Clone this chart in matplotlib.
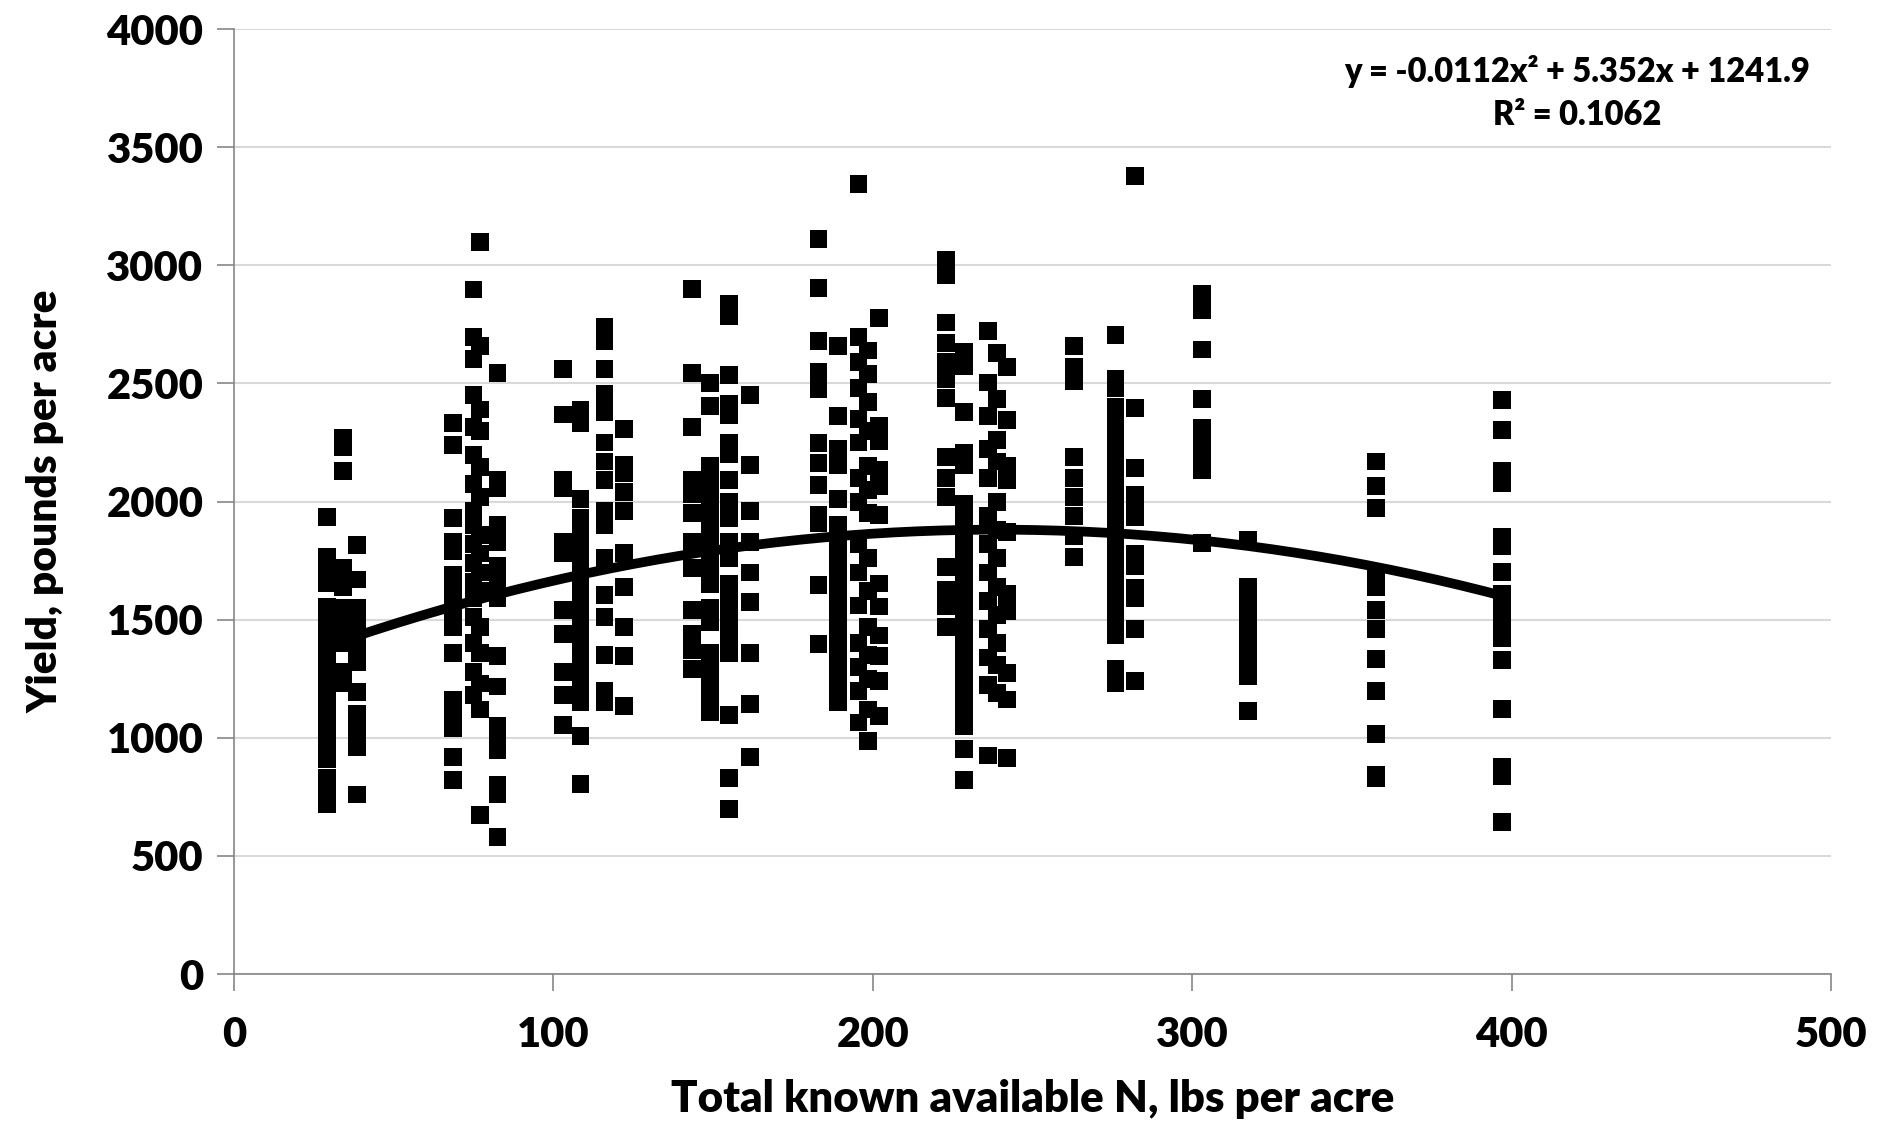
import numpy as np
import matplotlib
matplotlib.use('Agg')
import matplotlib.pyplot as plt

plt.rcParams['font.family'] = ['Lato', 'DejaVu Sans']
plt.rcParams['font.weight'] = 'heavy'

# total known available N (lbs/acre) for each column of points
n_levels = [29, 34, 38.5, 68.5, 75, 77, 82.5, 103, 108.5, 116, 122,
            143.5, 149, 155, 161.5, 183, 189, 195.5, 198.5, 202, 223, 228.5,
            236, 239, 242, 263, 276, 282, 303, 317.5, 357.5, 397]

# yields, one list per N level
yield_by_level = [
    [1934, 1767, 1690, 1654, 1555, 1520, 1490, 1460, 1430, 1400, 1370, 1340, 1310,
     1280, 1230, 1176, 1130, 1100, 1060, 1020, 990, 950, 910, 830, 790, 750, 720],
    [2270, 2230, 2128, 1718, 1690, 1640, 1550, 1500, 1450, 1400, 1280, 1230],
    [1816, 1670, 1550, 1500, 1450, 1400, 1350, 1320, 1193, 1100, 1050, 990, 960, 760],
    [2333, 2241, 1929, 1830, 1790, 1690, 1650, 1600, 1560, 1500, 1470, 1360, 1160,
     1100, 1040, 920, 820],
    [2898, 2697, 2605, 2450, 2317, 2196, 2075, 1960, 1900, 1820, 1740, 1660, 1590,
     1510, 1400, 1280, 1180],
    [3100, 2660, 2390, 2300, 2147, 2020, 1860, 1780, 1700, 1620, 1470, 1360, 1230,
     1120, 675],
    [2544, 2090, 2058, 1900, 1830, 1727, 1650, 1590, 1346, 1217, 1050, 1000, 950,
     800, 760, 580],
    [2560, 2369, 2090, 2058, 1830, 1780, 1540, 1440, 1280, 1180, 1055],
    [2390, 2333, 2010, 1930, 1900, 1860, 1820, 1780, 1740, 1700, 1650, 1600, 1550,
     1500, 1450, 1400, 1350, 1300, 1250, 1200, 1150, 1007, 804],
    [2740, 2680, 2560, 2455, 2380, 2250, 2170, 2090, 1960, 1900, 1760, 1605, 1510,
     1350, 1200, 1150],
    [2309, 2155, 2120, 2040, 1960, 1783, 1640, 1470, 1346, 1136],
    [2900, 2544, 2317, 2090, 2030, 1950, 1830, 1720, 1540, 1440, 1370, 1290],
    [2503, 2405, 2150, 2100, 2050, 2000, 1950, 1900, 1850, 1800, 1750, 1700, 1650,
     1550, 1490, 1360, 1300, 1250, 1180, 1110],
    [2835, 2786, 2535, 2414, 2365, 2250, 2200, 2090, 2000, 1930, 1830, 1760, 1650,
     1590, 1520, 1470, 1400, 1360, 1095, 830, 700],
    [2450, 2155, 1960, 1830, 1700, 1575, 1360, 1145, 920],
    [3112, 2903, 2679, 2547, 2477, 2249, 2162, 2069, 1942, 1907, 1648, 1398],
    [2658, 2363, 2223, 2153, 2012, 1900, 1850, 1800, 1750, 1700, 1650, 1600, 1550,
     1500, 1450, 1400, 1350, 1300, 1250, 1200, 1150],
    [3345, 2696, 2590, 2480, 2350, 2250, 2100, 2000, 1820, 1700, 1560, 1400, 1300,
     1200, 1065],
    [2640, 2540, 2420, 2300, 2150, 2050, 1950, 1760, 1620, 1470, 1350, 1250, 1120, 987],
    [2779, 2319, 2258, 2135, 2065, 1942, 1653, 1556, 1433, 1346, 1240, 1092],
    [3021, 2960, 2758, 2670, 2590, 2520, 2440, 2188, 2100, 2021, 1723, 1627, 1556, 1470],
    [2635, 2574, 2380, 2205, 2153, 1990, 1930, 1870, 1810, 1750, 1690, 1630, 1570,
     1510, 1450, 1390, 1340, 1280, 1220, 1160, 1100, 1050, 951, 820],
    [2723, 2504, 2363, 2223, 2100, 1940, 1820, 1700, 1580, 1460, 1340, 1223, 925],
    [2630, 2434, 2260, 2170, 2000, 1880, 1760, 1640, 1520, 1400, 1310, 1190],
    [2569, 2346, 2153, 2090, 1872, 1610, 1536, 1276, 1162, 916],
    [2658, 2570, 2510, 2190, 2100, 2020, 1940, 1855, 1767],
    [2705, 2520, 2480, 2400, 2350, 2300, 2250, 2200, 2150, 2100, 2050, 2000, 1950,
     1900, 1850, 1800, 1760, 1720, 1680, 1640, 1600, 1560, 1520, 1486, 1433, 1290, 1230],
    [3380, 2398, 2144, 2030, 1970, 1935, 1777, 1725, 1635, 1590, 1460, 1240],
    [2880, 2810, 2644, 2433, 2311, 2258, 2188, 2135, 1823],
    [1837, 1640, 1590, 1530, 1480, 1420, 1370, 1300, 1260, 1113],
    [2170, 2065, 1974, 1690, 1640, 1541, 1460, 1333, 1200, 1015, 845, 830],
    [2429, 2303, 2130, 2080, 1850, 1810, 1702, 1610, 1570, 1500, 1424, 1330, 1123,
     875, 840, 643],
]

# quadratic trendline as printed on the chart
trend_coef = [-0.0112, 5.352, 1241.9]
trend_label = 'y = -0.0112x\u00b2 + 5.352x + 1241.9\nR\u00b2 = 0.1062'

x_all = np.concatenate([[n] * len(ys) for n, ys in zip(n_levels, yield_by_level)])
y_all = np.concatenate(yield_by_level)

fig = plt.figure(figsize=(18.9, 11.3), dpi=100)
ax = fig.add_axes([0.1238, 0.138, 0.845, 0.8362])

ax.scatter(x_all, y_all, marker='s', s=165, color='black', edgecolors='none', zorder=3)

xs = np.linspace(x_all.min(), x_all.max(), 200)
ax.plot(xs, np.polyval(trend_coef, xs), color='black', lw=7, zorder=4,
        solid_capstyle='round')

ax.set_xlim(0, 500)
ax.set_ylim(0, 4000)
ax.set_xticks(range(0, 501, 100))
ax.set_yticks(range(0, 4001, 500))
ax.yaxis.grid(True, color='#d9d9d9', lw=1.5)
ax.set_axisbelow(True)

for s in ['top', 'right']:
    ax.spines[s].set_visible(False)
for s in ['left', 'bottom']:
    ax.spines[s].set_color('#868686')
    ax.spines[s].set_linewidth(1.2)
ax.tick_params(axis='both', colors='#868686', length=12, width=1.2,
               labelsize=30, labelcolor='black')
ax.tick_params(axis='x', pad=18)
ax.tick_params(axis='y', pad=10)

ax.set_xlabel('Total known available N, lbs per acre', fontsize=31.5, fontweight='heavy', labelpad=18)
ax.set_ylabel('Yield, pounds per acre', fontsize=30.5, fontweight='heavy', labelpad=30)

ax.text(0.841, 0.973, trend_label, transform=ax.transAxes, ha='center', va='top',
        fontsize=23.5, fontweight='heavy', linespacing=1.45)

fig.savefig('out.png', dpi=100)
